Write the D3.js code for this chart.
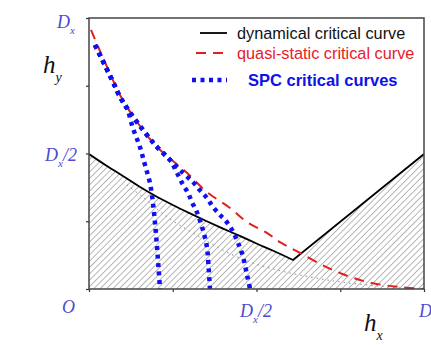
<!DOCTYPE html>
<html>
<head>
<meta charset="utf-8">
<script src="https://cdn.jsdelivr.net/npm/d3@7"></script>
<style>
  body { margin: 0; background: #fff; }
  svg { display: block; }
</style>
</head>
<body>
<div id="chart"></div>
<script>
// all values in units of Dx
const dynamical = [
  [0, 0.498], [0.05, 0.457], [0.1, 0.418], [0.15, 0.378], [0.2, 0.342],
  [0.25, 0.31], [0.3, 0.28], [0.35, 0.251], [0.4, 0.223], [0.45, 0.196],
  [0.5, 0.168], [0.55, 0.141], [0.609, 0.107], [1, 0.498]
]
const quasiStatic = [
  [0.006, 0.956], [0.05, 0.83], [0.101, 0.697], [0.161, 0.587], [0.203, 0.524],
  [0.293, 0.428], [0.352, 0.358], [0.421, 0.299], [0.472, 0.247], [0.531, 0.207],
  [0.57, 0.173], [0.63, 0.133], [0.728, 0.07], [0.83, 0.026], [0.928, 0.007], [1, 0]
]
const guide = [
  [0.113, 0.384], [0.161, 0.339], [0.233, 0.266], [0.31, 0.207],
  [0.43, 0.125], [0.54, 0.077], [0.728, 0.03], [0.928, 0.004]
]
const spcStart = [[0.018, 0.9], [0.069, 0.771], [0.093, 0.708], [0.113, 0.668]]
const spc = [
  spcStart.concat([[0.131, 0.594], [0.152, 0.524], [0.167, 0.458], [0.182, 0.391],
    [0.191, 0.317], [0.197, 0.244], [0.203, 0.155], [0.208, 0.07], [0.212, 0]]),
  spcStart.concat([[0.161, 0.587], [0.203, 0.524], [0.242, 0.476], [0.262, 0.43],
    [0.281, 0.384], [0.296, 0.354], [0.307, 0.321], [0.322, 0.284], [0.34, 0.218],
    [0.352, 0.155], [0.357, 0.08], [0.361, 0]]),
  spcStart.concat([[0.161, 0.587], [0.203, 0.524], [0.242, 0.476], [0.281, 0.428],
    [0.31, 0.395], [0.331, 0.365], [0.352, 0.336], [0.37, 0.303], [0.391, 0.273],
    [0.406, 0.255], [0.427, 0.218], [0.445, 0.17], [0.46, 0.118], [0.472, 0.05], [0.481, 0]])
]
const ticks = [0, 0.25, 0.5, 0.75, 1]
const legend = [
  { label: 'dynamical critical curve', color: '#000', dash: null, width: 1.8, text: '#111', bold: false, size: 16.3 },
  { label: 'quasi-static critical curve', color: '#e02020', dash: '10,7', width: 2, text: '#e8202a', bold: false, size: 16.3 },
  { label: 'SPC critical curves', color: '#1010f0', dash: '4,4.5', width: 4.5, text: '#1010e8', bold: true, size: 16.5 }
]

const W = 431, H = 345
const x = d3.scaleLinear([0, 1], [89, 424])
const y = d3.scaleLinear([0, 1], [289, 18])
const labelColor = '#4b4bd0'

const svg = d3.select('#chart').append('svg')
  .attr('width', W).attr('height', H)

const defs = svg.append('defs')
const pat = defs.append('pattern')
  .attr('id', 'hatch')
  .attr('patternUnits', 'userSpaceOnUse')
  .attr('width', 4.5).attr('height', 4.5)
  .attr('patternTransform', 'rotate(45)')
pat.append('line')
  .attr('x1', 0).attr('y1', 0).attr('x2', 0).attr('y2', 4.5)
  .attr('stroke', '#707070').attr('stroke-width', 1)
defs.append('clipPath').attr('id', 'plot')
  .append('rect')
  .attr('x', x(0)).attr('y', y(1))
  .attr('width', x(1) - x(0)).attr('height', y(0) - y(1))

const smooth = d3.line().x(d => x(d[0])).y(d => y(d[1])).curve(d3.curveMonotoneX)
const curve = d3.line().x(d => x(d[0])).y(d => y(d[1])).curve(d3.curveCatmullRom)

const g = svg.append('g').attr('clip-path', 'url(#plot)')

g.append('path')
  .attr('d', d3.area().x(d => x(d[0])).y0(y(0)).y1(d => y(d[1]))(dynamical))
  .attr('fill', 'url(#hatch)')

g.append('path')
  .attr('d', curve(guide))
  .attr('fill', 'none').attr('stroke', '#8a8a8a')
  .attr('stroke-width', 1).attr('stroke-dasharray', '1.5,4')

const last = dynamical[dynamical.length - 1]
g.append('path')
  .attr('d', smooth(dynamical.slice(0, -1)) + 'L' + x(last[0]) + ',' + y(last[1]))
  .attr('fill', 'none').attr('stroke', '#000').attr('stroke-width', 1.8)

g.append('path')
  .attr('d', curve(quasiStatic))
  .attr('fill', 'none').attr('stroke', '#e02020')
  .attr('stroke-width', 2).attr('stroke-dasharray', '10,7')

spc.forEach(c => {
  g.append('path')
    .attr('d', curve(c))
    .attr('fill', 'none').attr('stroke', '#1010f0')
    .attr('stroke-width', 4.5).attr('stroke-dasharray', '4,4.5')
})

// axes
svg.append('g')
  .attr('transform', `translate(0,${y(0)})`)
  .call(d3.axisBottom(x).tickValues(ticks).tickSize(3).tickFormat(''))
  .call(a => a.select('.domain').remove())
svg.append('g')
  .attr('transform', `translate(${x(0)},0)`)
  .call(d3.axisLeft(y).tickValues(ticks).tickSize(3).tickFormat(''))
  .call(a => a.select('.domain').remove())
svg.selectAll('.tick line').attr('stroke', '#333').attr('stroke-width', 1.2)

svg.append('rect')
  .attr('x', x(0)).attr('y', y(1))
  .attr('width', x(1) - x(0)).attr('height', y(0) - y(1))
  .attr('fill', 'none').attr('stroke', '#444').attr('stroke-width', 1.5)

// legend
const lg = svg.append('g')
legend.forEach((d, i) => {
  const ly = [33, 53, 80][i]
  lg.append('line')
    .attr('x1', [200, 196, 192][i]).attr('x2', 227).attr('y1', ly).attr('y2', ly)
    .attr('stroke', d.color).attr('stroke-width', d.width)
    .attr('stroke-dasharray', d.dash)
  lg.append('text')
    .attr('x', i === 2 ? 248 : 237).attr('y', ly + 5.5)
    .attr('font-family', 'Liberation Sans, Arial, sans-serif')
    .attr('font-size', d.size)
    .attr('font-weight', d.bold ? 'bold' : 'normal')
    .attr('fill', d.text)
    .text(d.label)
})

// math labels
function mathLabel(px, py, parts, size, color) {
  const t = svg.append('text')
    .attr('x', px).attr('y', py)
    .attr('font-family', 'Liberation Serif, Times New Roman, serif')
    .attr('font-style', 'italic')
    .attr('font-size', size)
    .attr('fill', color)
  parts.forEach(p => {
    t.append('tspan')
      .attr('dy', p.dy || 0)
      .attr('font-size', p.size || size)
      .text(p.t)
  })
}
mathLabel(57, 28, [{ t: 'D' }, { t: 'x', dy: 6, size: 11 }], 18, labelColor)
mathLabel(45, 161, [{ t: 'D' }, { t: 'x', dy: 6, size: 11 }, { t: '/2', dy: -6 }], 18, labelColor)
mathLabel(62, 313, [{ t: 'O' }], 18, labelColor)
mathLabel(240, 317, [{ t: 'D' }, { t: 'x', dy: 6, size: 11 }, { t: '/2', dy: -6 }], 18, labelColor)
mathLabel(419, 317, [{ t: 'D' }], 18, labelColor)
mathLabel(43, 73, [{ t: 'h' }, { t: 'y', dy: 9, size: 14 }], 25, '#111')
mathLabel(364, 331, [{ t: 'h' }, { t: 'x', dy: 9, size: 14 }], 25, '#111')
</script>
</body>
</html>
